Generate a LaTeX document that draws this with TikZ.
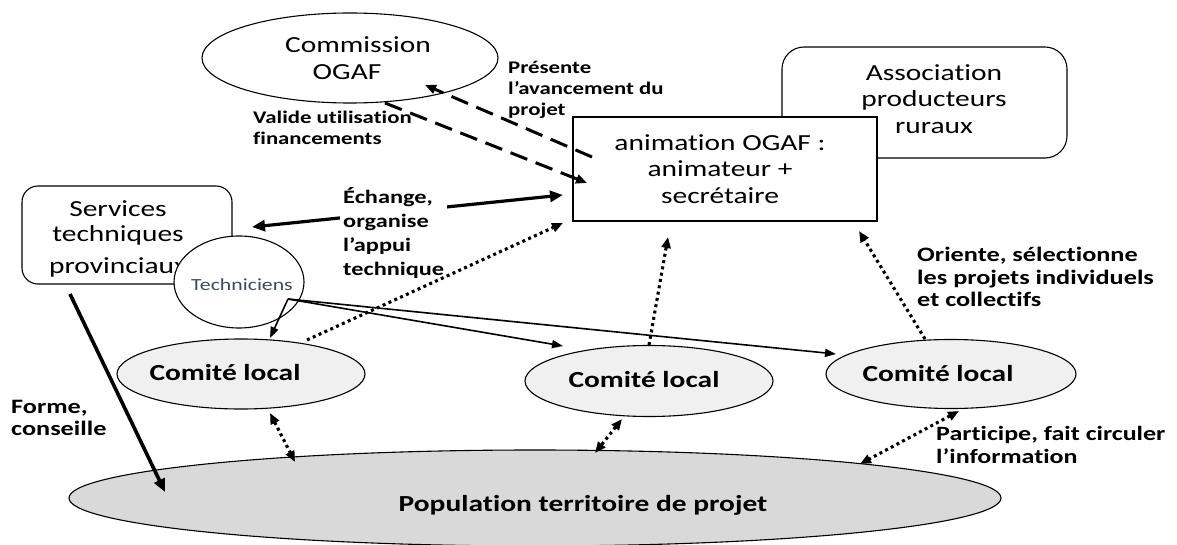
\documentclass[tikz,border=0pt]{standalone}
\usepackage{fontspec}
\setmainfont{Carlito}[FakeStretch=1.28, Ligatures={TeX,NoCommon}]
\usetikzlibrary{arrows.meta,shapes.geometric}
\definecolor{comfill}{HTML}{F0F0F0}
\definecolor{popfill}{HTML}{D9D9D9}
\definecolor{techtxt}{RGB}{60,75,100}

\tikzset{
  outline/.style={draw=black, line width=1.1pt, inner sep=0pt},
  oval/.style={outline, ellipse},
  roundbox/.style={outline, rectangle, rounded corners=#1},
  mainfont/.style={font=\fontsize{23pt}{26.8pt}\selectfont, align=center, inner sep=0pt},
  mainbold/.style={font=\bfseries\fontsize{23pt}{26.8pt}\selectfont, inner sep=0pt},
  lab/.style={align=left, inner sep=0pt, anchor=west},
  tipA/.tip={Triangle[length=11pt,width=9pt]},
  dashedarrow/.style={line width=3pt, dash pattern=on 18pt off 9pt, -tipA},
  dotarrow/.style={line width=3.1pt, dash pattern=on 3pt off 3.4pt, -tipA},
  dotboth/.style={dotarrow, tipA-tipA},
  thinarrow/.style={line width=1.6pt, -{Triangle[length=11pt,width=8pt]}},
  thickarrow/.style={line width=3.4pt, -{Triangle[length=13pt,width=11pt]}},
}

\begin{document}
\begin{tikzpicture}[x=1pt,y=-1pt]
\useasboundingbox (0,0) rectangle (1177,545);

% territory population, at the back
\node[oval, fill=popfill, minimum width=932pt, minimum height=96pt] (pop) at (535,498) {};
\node[mainbold] (pop-t) at (583,505) {Population territoire de projet};

% local committees
\node[oval, fill=comfill, minimum width=248pt, minimum height=70pt] (cl1) at (241,374) {};
\node[mainbold] (cl1-t) at (225,373) {Comité local};
\node[oval, fill=comfill, minimum width=248pt, minimum height=71pt] (cl2) at (649,381) {};
\node[mainbold] (cl2-t) at (644,380) {Comité local};
\node[oval, fill=comfill, minimum width=250pt, minimum height=69pt] (cl3) at (951,374) {};
\node[mainbold] (cl3-t) at (938,374) {Comité local};

% OGAF commission
\node[oval, minimum width=296pt, minimum height=90pt] (comm) at (350,58) {};
\node[mainfont] (comm-t) at (358,58) {Commission\\OGAF\hspace*{22pt}};

% producers' association, partly hidden by the animation box
\node[roundbox=22pt, minimum width=285pt, minimum height=111pt] (assoc) at (924.5,102.5) {};
\node[mainfont] (assoc-t) at (934,99) {Association\\producteurs\\ruraux};

% animation team
\node[outline, fill=white, minimum width=304pt, minimum height=104pt] (anim) at (725,169) {};
\node[mainfont] (anim-t) at (720,169) {animation OGAF :\\animateur +\\secrétaire};

% provincial technical services and technicians
\node[roundbox=16pt, minimum width=210pt, minimum height=98pt] (serv) at (127,235) {};
\node[font=\fontsize{23pt}{24.5pt}\selectfont, align=center, inner sep=0pt] (serv-t) at (118,239) {Services\\techniques\\[8pt]provinciaux};
\node[oval, fill=white, minimum width=130pt, minimum height=92pt] (tech) at (239,282) {};
\node[font=\fontsize{17pt}{20pt}\selectfont, text=techtxt, inner sep=0pt] (tech-t) at (242,285) {Techniciens};

% connector ends
\coordinate (a-out) at (592,157);
\coordinate (comm-in) at (425,85);
\coordinate (comm-out) at (385,103);
\coordinate (a-in1) at (587,183);
\coordinate (a-ex) at (563,195);
\coordinate (s-ex) at (252,227);
\coordinate (a-in2) at (563,223);
\coordinate (a-in3) at (668,237);
\coordinate (a-in4) at (859,231);
\coordinate (cl1-up) at (307,340);
\coordinate (cl2-up) at (649,345);
\coordinate (cl3-up) at (925,339);
\coordinate (t-hub) at (288,299);
\coordinate (cl1-in) at (270,338);
\coordinate (cl2-in) at (563,346);
\coordinate (cl3-in) at (836,354);
\coordinate (cl1-dn) at (270,413);
\coordinate (p-in1) at (295,462);
\coordinate (cl2-dn) at (622,419);
\coordinate (p-in2) at (595,453);
\coordinate (cl3-dn) at (959,411);
\coordinate (p-in3) at (860,464);
\coordinate (s-dn) at (70,294);
\coordinate (p-in0) at (165,492);

% commission <-> animation
\draw[dashedarrow] (a-out) -- (comm-in);
\draw[dashedarrow] (comm-out) -- (a-in1);

% exchange with the technical services
\draw[line width=3.2pt, {Triangle[length=13pt,width=11pt]}-{Triangle[length=13pt,width=11pt]}] (s-ex) -- (a-ex);
\node[lab, fill=white, inner sep=3pt, font=\bfseries\fontsize{19pt}{23.7pt}\selectfont] (lab-ex) at (340,233) {Échange,\\organise\\l’appui\\technique};

% committees report to the animation team
\draw[dotarrow] (cl1-up) -- (a-in2);
\draw[dotarrow] (cl2-up) -- (a-in3);
\draw[dotarrow] (cl3-up) -- (a-in4);

% technicians support the committees
\draw[thinarrow] (t-hub) -- (cl1-in);
\draw[thinarrow] (t-hub) -- (cl2-in);
\draw[thinarrow] (t-hub) -- (cl3-in);

% committees <-> population
\draw[dotboth] (cl1-dn) -- (p-in1);
\draw[dotboth] (cl2-dn) -- (p-in2);
\draw[dotboth] (cl3-dn) -- (p-in3);

% training of the population
\draw[thickarrow, line width=3.6pt] (s-dn) -- (p-in0);

% connector labels
\node[lab, font=\bfseries\fontsize{17.8pt}{20.8pt}\selectfont] (lab-pres) at (508,90) {Présente\\l’avancement du\\projet};
\node[lab, font=\bfseries\fontsize{17.8pt}{21pt}\selectfont] (lab-val) at (253,128) {Valide utilisation\\financements};
\node[lab, font=\bfseries\fontsize{20.5pt}{22.8pt}\selectfont] (lab-or) at (917,277) {Oriente, sélectionne\\les projets individuels\\et collectifs};
\node[lab, font=\bfseries\fontsize{20.3pt}{23pt}\selectfont] (lab-part) at (936,445) {Participe, fait circuler\\l’information};
\node[lab, font=\bfseries\fontsize{20.5pt}{22.5pt}\selectfont] (lab-form) at (11,418) {Forme,\\conseille};
\end{tikzpicture}
\end{document}
